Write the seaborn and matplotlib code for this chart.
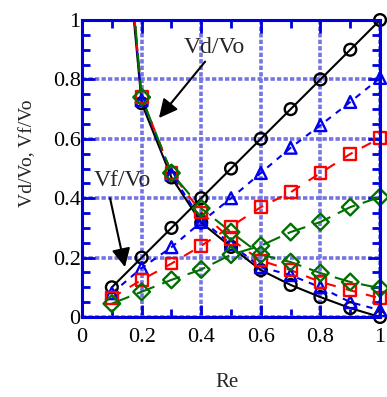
import numpy as np
import pandas as pd
import seaborn as sns
import matplotlib.pyplot as plt
from matplotlib.ticker import MultipleLocator, FormatStrFormatter

# ---- data ----
re_vals = [0.1, 0.2, 0.3, 0.4, 0.5, 0.6, 0.7, 0.8, 0.9, 1.0]

# Vf/Vo (rising branch)
vf_circle = [0.10, 0.20, 0.30, 0.40, 0.50, 0.60, 0.70, 0.80, 0.90, 1.00]
vf_tri = [0.08, 0.165, 0.235, 0.32, 0.40, 0.485, 0.57, 0.646, 0.724, 0.805]
vf_square = [0.065, 0.125, 0.18, 0.24, 0.305, 0.37, 0.42, 0.485, 0.549, 0.603]
vf_diamond = [0.045, 0.085, 0.125, 0.16, 0.21, 0.24, 0.286, 0.32, 0.37, 0.404]

# Vd/Vo (falling branch), first point is above the frame
vd_circle = [1.80, 0.72, 0.47, 0.318, 0.236, 0.158, 0.108, 0.067, 0.03, 0.0]
vd_tri = [1.85, 0.73, 0.48, 0.328, 0.245, 0.168, 0.141, 0.10, 0.05, 0.023]
vd_square = [1.85, 0.74, 0.485, 0.352, 0.262, 0.19, 0.158, 0.118, 0.09, 0.063]
vd_diamond = [1.90, 0.74, 0.485, 0.366, 0.286, 0.21, 0.185, 0.148, 0.118, 0.097]

x_ticks = [0, 0.2, 0.4, 0.6, 0.8, 1]
y_ticks = [0, 0.2, 0.4, 0.6, 0.8, 1]

sns.set_style("ticks")
plt.rcParams['font.family'] = ['Liberation Serif', 'DejaVu Serif']

fig = plt.figure(figsize=(3.87, 3.97), dpi=100)
ax = fig.add_axes([0.212, 0.2015, 0.77, 0.748])

series = [
    (vf_circle, vd_circle, "black", "o", "-"),
    (vf_tri, vd_tri, "#0000ee", "^", (0, (3, 3))),
    (vf_square, vd_square, "#ff0000", "s", (0, (5, 5))),
    (vf_diamond, vd_diamond, "#007000", "D", (0, (9, 4))),
]

for vf, vd, col, mk, ls in series:
    for yv in (vf, vd):
        df = pd.DataFrame({"Re": re_vals, "V": yv})
        sns.lineplot(data=df, x="Re", y="V", ax=ax, color=col, linestyle=ls,
                     linewidth=1.5, zorder=3)
        vis = df[df["V"] <= 1.0]
        sns.scatterplot(data=vis, x="Re", y="V", ax=ax, marker=mk, s=72,
                        facecolor="none", edgecolor=col, linewidth=1.7,
                        clip_on=False, zorder=4)

ax.set_xlim(0, 1)
ax.set_ylim(0, 1)
ax.set_xticks(x_ticks)
ax.set_yticks(y_ticks)
ax.xaxis.set_major_formatter(FormatStrFormatter('%g'))
ax.yaxis.set_major_formatter(FormatStrFormatter('%g'))
ax.xaxis.set_minor_locator(MultipleLocator(0.1))
ax.yaxis.set_minor_locator(MultipleLocator(0.05))

blue = "#0000dd"
for s in ax.spines.values():
    s.set_color(blue)
    s.set_linewidth(2.2)
    s.set_zorder(5)
ax.tick_params(which="both", direction="in", top=True, right=True,
               color=blue, width=2, labelsize=16, labelcolor="black")
ax.tick_params(which="major", length=9)
ax.tick_params(which="minor", length=6)
ax.tick_params(axis="x", which="major", pad=8)
ax.tick_params(axis="y", which="major", pad=1)

ax.grid(True, which="major", color="#7474e4", linewidth=2.6,
        linestyle=(0, (1.2, 0.6)), zorder=1)
ax.set_axisbelow(True)

ax.set_xlabel("Re", fontsize=15)
ax.xaxis.set_label_coords(0.487, -0.19)
ax.set_ylabel("Vd/Vo, Vf/Vo", fontsize=14)
ax.yaxis.set_label_coords(-0.155, 0.55)

arrow = dict(arrowstyle="-|>", mutation_scale=28, lw=1.5, color="black",
             shrinkA=0, shrinkB=0)
ax.annotate("", xy=(0.258, 0.67), xytext=(0.413, 0.86), arrowprops=arrow)
ax.text(0.443, 0.909, "Vd/Vo", fontsize=17, ha="center", va="center")
ax.annotate("", xy=(0.144, 0.168), xytext=(0.094, 0.40), arrowprops=arrow)
ax.text(0.134, 0.461, "Vf/Vo", fontsize=17, ha="center", va="center")

fig.savefig("out.png", dpi=100)
